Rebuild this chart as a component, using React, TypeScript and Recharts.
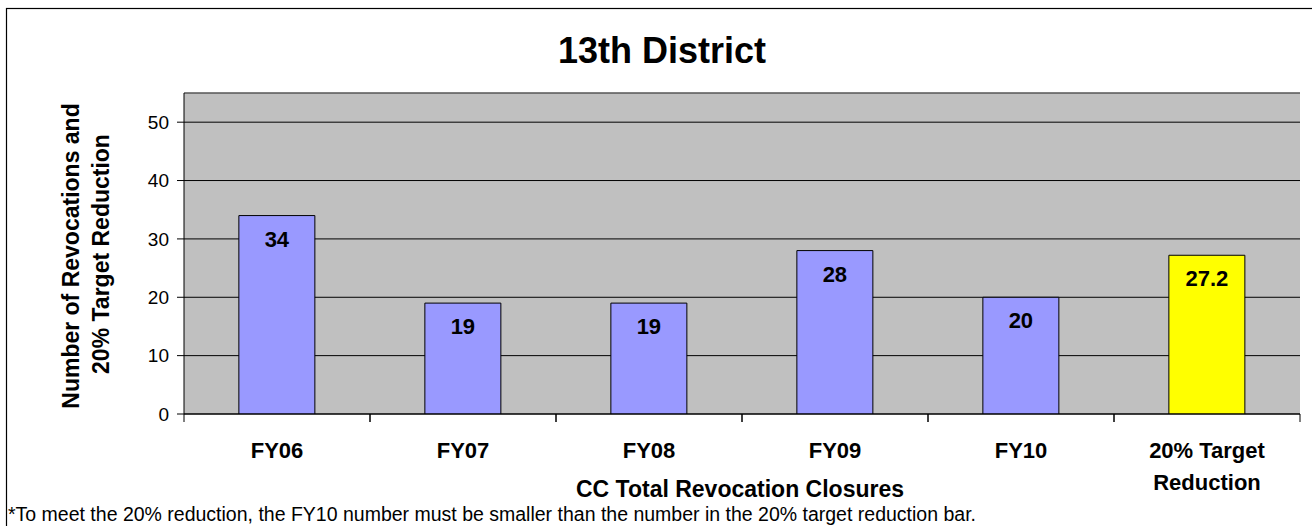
import React from 'react';
import { BarChart, Bar, XAxis, YAxis, CartesianGrid, Cell, LabelList, ReferenceLine } from 'recharts';

const categories = ['FY06', 'FY07', 'FY08', 'FY09', 'FY10', '20% Target Reduction'];
const closures = [34, 19, 19, 28, 20, 27.2];
const barColors = ['#9999FF', '#9999FF', '#9999FF', '#9999FF', '#9999FF', '#FFFF00'];
const yTicks = [0, 10, 20, 30, 40, 50];

const data = categories.map((name, i) => ({ name, value: closures[i] }));

const FONT = '"Liberation Sans", Arial, sans-serif';

const splitLabel = (s: string): string[] => {
  if (s.length <= 10) return [s];
  const k = s.lastIndexOf(' ');
  return [s.slice(0, k), s.slice(k + 1)];
};

const XTick = (props: any) => {
  const { x, y, payload, width, visibleTicksCount } = props;
  const half = payload && payload.offset ? payload.offset : (width && visibleTicksCount ? width / visibleTicksCount / 2 : 0);
  const lines = splitLabel(String(payload.value));
  return (
    <g>
      <line x1={x - half} x2={x - half} y1={y} y2={y + 8} stroke="#000" strokeWidth={1} />
      <line x1={x + half} x2={x + half} y1={y} y2={y + 8} stroke="#000" strokeWidth={1} />
      <text x={x} y={y + 44} textAnchor="middle" fontFamily={FONT} fontWeight="bold" fontSize={22} fill="#000">
        {lines.map((l, i) => (
          <tspan key={i} x={x} dy={i === 0 ? 0 : 32}>{l}</tspan>
        ))}
      </text>
    </g>
  );
};

const BarLabel = (props: any) => {
  const { x, y, width, value } = props;
  return (
    <text x={x + width / 2} y={y + 31} textAnchor="middle" fontFamily={FONT} fontWeight="bold" fontSize={22} fill="#000">
      {value}
    </text>
  );
};

export default function App() {
  return (
    <div style={{ position: 'absolute', left: 0, top: 0, width: 1312, height: 526, background: '#fff' }}>
      <BarChart
        width={1312}
        height={526}
        data={data}
        margin={{ top: 93, right: 12, bottom: 32, left: 124 }}
        barCategoryGap="29.5%"
      >
        <CartesianGrid horizontal={true} vertical={false} stroke="#000" fill="#C0C0C0" fillOpacity={1} />
        <ReferenceLine y={55} stroke="#808080" strokeWidth={1} />
        <XAxis
          dataKey="name"
          height={80}
          axisLine={{ stroke: '#000' }}
          tickLine={false}
          tickSize={0}
          tickMargin={0}
          interval={0}
          tick={<XTick />}
        />
        <YAxis
          width={60}
          domain={[0, 55]}
          ticks={yTicks}
          allowDataOverflow={true}
          axisLine={{ stroke: '#000' }}
          tickLine={{ stroke: '#000' }}
          tickSize={7}
          tickMargin={8}
          tick={{ fontFamily: FONT, fontSize: 19, fill: '#000' }}
        />
        <YAxis
          yAxisId="right"
          orientation="right"
          width={0}
          domain={[0, 55]}
          tick={false}
          tickLine={false}
          axisLine={{ stroke: '#808080' }}
        />
        <Bar dataKey="value" stroke="#000" strokeWidth={1} isAnimationActive={false}>
          {data.map((d, i) => (
            <Cell key={d.name} fill={barColors[i]} />
          ))}
          <LabelList dataKey="value" content={<BarLabel />} />
        </Bar>
      </BarChart>
      <svg width={1312} height={526} style={{ position: 'absolute', left: 0, top: 0, pointerEvents: 'none' }}>
        <rect x={6.5} y={8.5} width={1310} height={530} fill="none" stroke="#000" strokeWidth={1.2} />
        <text x={662} y={63} textAnchor="middle" fontFamily={FONT} fontWeight="bold" fontSize={36} fill="#000">
          13th District
        </text>
        <g transform="translate(79,256) rotate(-90)">
          <text x={0} y={0} textAnchor="middle" fontFamily={FONT} fontWeight="bold" fontSize={23} fill="#000">
            Number of Revocations and
          </text>
        </g>
        <g transform="translate(109,254) rotate(-90)">
          <text x={0} y={0} textAnchor="middle" fontFamily={FONT} fontWeight="bold" fontSize={23} fill="#000">
            20% Target Reduction
          </text>
        </g>
        <text x={740} y={497} textAnchor="middle" fontFamily={FONT} fontWeight="bold" fontSize={23} fill="#000">
          CC Total Revocation Closures
        </text>
        <text x={8} y={521} fontFamily={FONT} fontSize={19.5} fill="#000">
          *To meet the 20% reduction, the FY10 number must be smaller than the number in the 20% target reduction bar.
        </text>
      </svg>
    </div>
  );
}
